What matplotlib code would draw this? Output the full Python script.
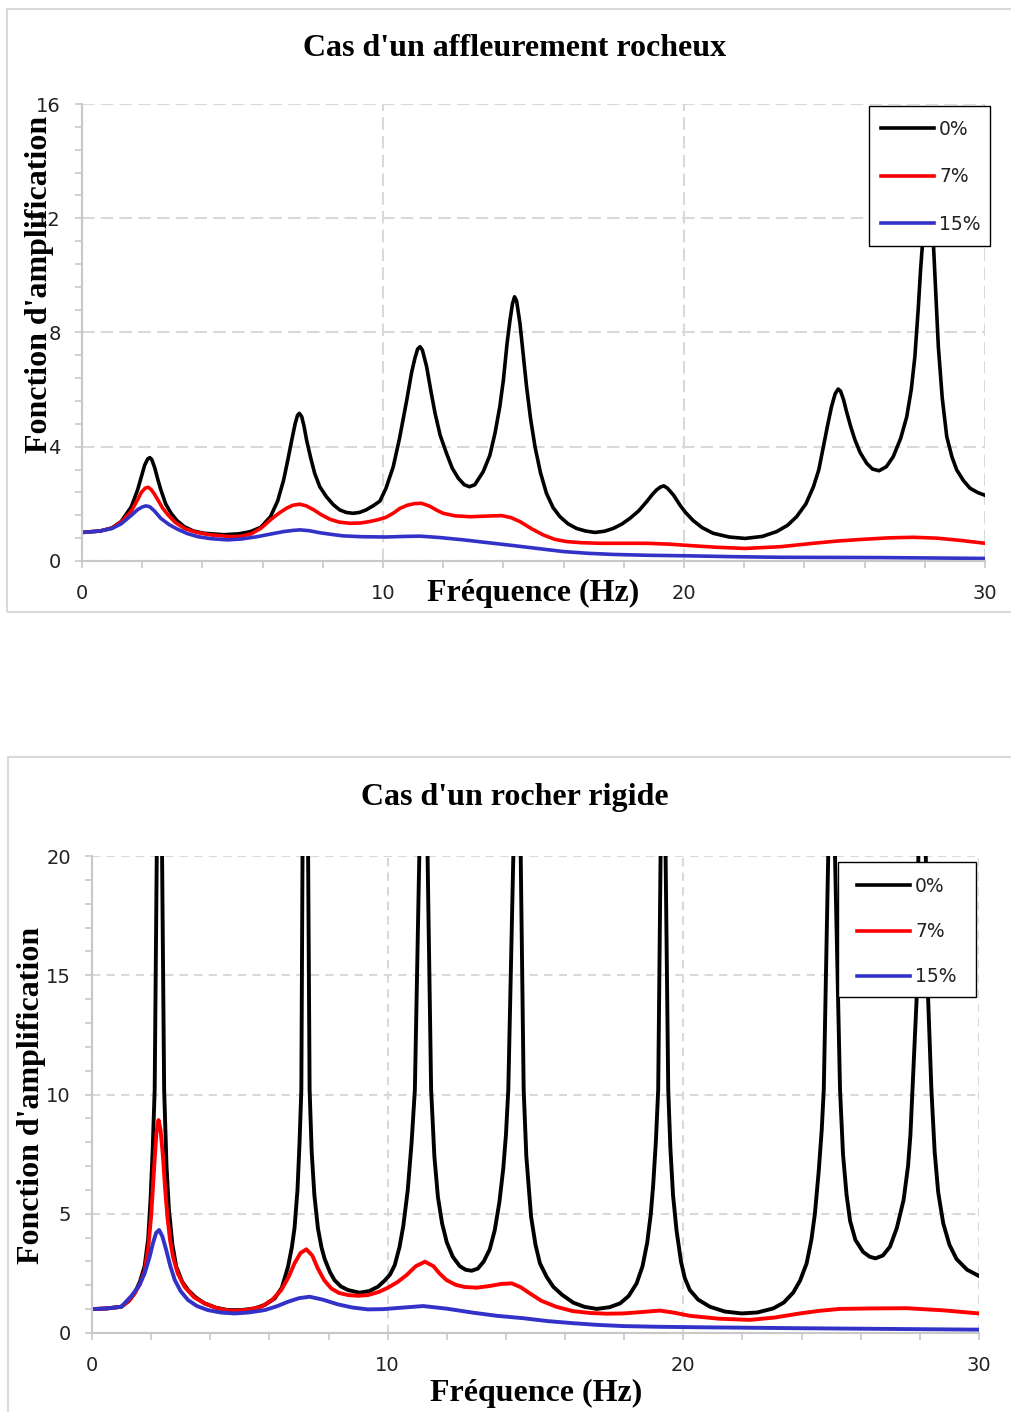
import matplotlib
matplotlib.use("Agg")
import matplotlib.pyplot as plt
from matplotlib.patches import Rectangle
from matplotlib.ticker import MultipleLocator

W, H = 1011, 1412

SERIES = ["0%", "7%", "15%"]
COLORS = ["#000000", "#ff0000", "#3232c8"]

# --- Cas d'un affleurement rocheux ---
top_f0 = [0, 0.6, 1.0, 1.3, 1.64, 1.85, 1.97, 2.08, 2.18, 2.25, 2.32, 2.42, 2.52, 2.62, 2.78,
          2.96, 3.15, 3.4, 3.7, 4.06, 4.72, 5.2, 5.6, 5.94, 6.26, 6.5, 6.7, 6.85, 6.97, 7.08,
          7.16, 7.22, 7.3, 7.38, 7.46, 7.6, 7.73, 7.9, 8.12, 8.35, 8.56, 8.78, 9.0, 9.22,
          9.44, 9.7, 9.9, 10.1, 10.34, 10.55, 10.79, 10.95, 11.06, 11.15, 11.23, 11.31,
          11.45, 11.6, 11.73, 11.9, 12.11, 12.3, 12.5, 12.7, 12.87, 13.05, 13.33, 13.55,
          13.72, 13.88, 14.0, 14.12, 14.22, 14.3, 14.37, 14.44, 14.55, 14.66, 14.77, 14.9,
          15.05, 15.23, 15.43, 15.65, 15.88, 16.15, 16.43, 16.73, 17.04, 17.35, 17.65,
          17.93, 18.2, 18.5, 18.76, 18.95, 19.09, 19.22, 19.33, 19.45, 19.65, 19.87, 20.05,
          20.3, 20.6, 20.97, 21.5, 22.03, 22.6, 23.08, 23.44, 23.74, 24.05, 24.3, 24.48,
          24.63, 24.78, 24.9, 25.02, 25.12, 25.2, 25.3, 25.4, 25.54, 25.68, 25.85, 26.07,
          26.26, 26.48, 26.72, 26.95, 27.2, 27.4, 27.55, 27.67, 27.78, 27.86, 27.92, 28.0,
          28.1, 28.2, 28.29, 28.37, 28.45, 28.58, 28.73, 28.9, 29.06, 29.28, 29.5, 29.75,
          30.0]
top_a0 = [1.0, 1.05, 1.16, 1.38, 1.9, 2.5, 2.95, 3.35, 3.57, 3.62, 3.55, 3.25, 2.85, 2.49, 2.0,
          1.67, 1.42, 1.2, 1.05, 0.97, 0.92, 0.95, 1.03, 1.18, 1.55, 2.1, 2.84, 3.6, 4.24, 4.8,
          5.1, 5.17, 5.05, 4.7, 4.24, 3.6, 3.07, 2.6, 2.25, 1.97, 1.79, 1.7, 1.67, 1.7,
          1.79, 1.95, 2.1, 2.55, 3.3, 4.3, 5.64, 6.6, 7.1, 7.42, 7.5, 7.38,
          6.8, 5.9, 5.17, 4.4, 3.77, 3.25, 2.9, 2.67, 2.6, 2.67, 3.13, 3.7,
          4.47, 5.4, 6.34, 7.6, 8.44, 9.0, 9.25, 9.1, 8.32, 7.2, 6.1, 5.0,
          4.0, 3.1, 2.37, 1.87, 1.55, 1.3, 1.14, 1.05, 1.0, 1.04, 1.14,
          1.29, 1.49, 1.76, 2.08, 2.33, 2.49, 2.59, 2.63, 2.55, 2.31, 1.95, 1.7,
          1.42, 1.17, 0.97, 0.84, 0.79, 0.86, 1.03, 1.25, 1.55, 2.0, 2.6, 3.2,
          4.0, 4.8, 5.4, 5.85, 6.02, 5.95, 5.65, 5.23, 4.7, 4.24, 3.8, 3.42,
          3.22, 3.16, 3.3, 3.65, 4.3, 5.05, 6.0, 7.15, 8.8, 10.2, 11.06, 12.8,
          14.0, 13.0, 11.0, 9.2, 7.5, 5.7, 4.35, 3.65, 3.19, 2.82, 2.55, 2.4,
          2.3]

top_f7 = [0, 0.6, 1.0, 1.3, 1.64, 1.85, 1.97, 2.1, 2.2, 2.3, 2.4, 2.52, 2.68, 2.86, 3.1, 3.4,
          3.8, 4.3, 4.96, 5.3, 5.62, 5.95, 6.26, 6.55, 6.8, 7.0, 7.23, 7.45, 7.7, 7.95, 8.24,
          8.55, 8.9, 9.25, 9.55, 9.85, 10.1, 10.35, 10.56, 10.8, 11.05, 11.28, 11.55, 11.8,
          12.0, 12.4, 12.89, 13.4, 13.94, 14.25, 14.55, 14.95, 15.33, 15.7, 16.1, 16.6,
          17.21, 18.0, 18.76, 19.5, 20.2, 21.1, 22.03, 23.2, 24.3, 25.1, 25.96, 26.8, 27.62,
          28.4, 29.2, 30.0]
top_a7 = [1.0, 1.05, 1.15, 1.36, 1.75, 2.15, 2.4, 2.55, 2.58, 2.5, 2.35, 2.14, 1.85, 1.61, 1.35,
          1.14, 1.0, 0.91, 0.85, 0.87, 0.95, 1.15, 1.44, 1.68, 1.85, 1.95, 1.99, 1.93, 1.79,
          1.62, 1.46, 1.36, 1.32, 1.33, 1.38, 1.45, 1.53, 1.68, 1.84, 1.95, 2.01, 2.02, 1.92,
          1.77, 1.67, 1.58, 1.55, 1.57, 1.59, 1.52, 1.38, 1.12, 0.91, 0.76, 0.68, 0.64,
          0.62, 0.62, 0.62, 0.59, 0.54, 0.48, 0.44, 0.5, 0.62, 0.7, 0.76, 0.81, 0.83,
          0.8, 0.72, 0.62]

top_f15 = [0, 0.6, 1.0, 1.3, 1.64, 1.85, 2.0, 2.12, 2.25, 2.4, 2.62, 2.9, 3.18, 3.5, 3.85, 4.3,
           4.83, 5.3, 5.81, 6.25, 6.7, 7.0, 7.24, 7.55, 7.9, 8.3, 8.67, 9.3, 10.1, 10.7, 11.23,
           11.9, 12.67, 13.5, 14.33, 15.2, 16.0, 16.8, 17.65, 18.8, 20.2, 21.7, 23.2, 26.5,
           30.0]
top_a15 = [1.0, 1.05, 1.14, 1.3, 1.6, 1.8, 1.89, 1.93, 1.9, 1.76, 1.49, 1.27, 1.11, 0.96, 0.85,
           0.78, 0.74, 0.77, 0.85, 0.94, 1.03, 1.07, 1.09, 1.06, 0.99, 0.93, 0.88, 0.85, 0.84,
           0.86, 0.87, 0.82, 0.74, 0.64, 0.54, 0.43, 0.33, 0.27, 0.23, 0.2, 0.18, 0.15, 0.13,
           0.12, 0.09]

# --- Cas d'un rocher rigide ---
bot_f0 = [0, 0.5, 0.99, 1.25, 1.44, 1.62, 1.78, 1.9, 1.98, 2.05, 2.12, 2.19, 2.28, 2.37, 2.44,
          2.52, 2.6, 2.72, 2.85, 3.05, 3.25, 3.5, 3.81, 4.2, 4.6, 5.05, 5.5, 5.85, 6.18, 6.42,
          6.63, 6.76, 6.85, 6.95, 7.02, 7.08, 7.12, 7.21, 7.31, 7.36, 7.43, 7.52, 7.64, 7.76,
          7.87, 8.05, 8.2, 8.42, 8.66, 9.05, 9.38, 9.67, 9.9, 10.08, 10.24, 10.4, 10.53,
          10.68, 10.81, 10.92, 11.07, 11.21, 11.35, 11.47, 11.58, 11.7, 11.84, 12.0, 12.2,
          12.44, 12.64, 12.84, 13.05, 13.25, 13.45, 13.62, 13.78, 13.91, 14.0, 14.08, 14.25,
          14.37, 14.5, 14.6, 14.69, 14.85, 15.0, 15.15, 15.38, 15.6, 15.9, 16.28, 16.65,
          17.07, 17.5, 17.86, 18.15, 18.42, 18.62, 18.78, 18.9, 18.98, 19.07, 19.15, 19.23,
          19.31, 19.4, 19.49, 19.56, 19.65, 19.77, 19.92, 20.05, 20.22, 20.5, 20.9, 21.4,
          21.97, 22.5, 23.04, 23.4, 23.72, 23.95, 24.17, 24.33, 24.45, 24.58, 24.68, 24.75,
          24.9, 25.02, 25.13, 25.3, 25.4, 25.52, 25.64, 25.82, 26.08, 26.3, 26.5, 26.75,
          26.99, 27.22, 27.45, 27.6, 27.68, 27.75, 27.89, 27.95, 28.07, 28.2, 28.28, 28.39,
          28.5, 28.62, 28.79, 29.0, 29.24, 29.6, 30.0]
bot_a0 = [1.0, 1.03, 1.1, 1.35, 1.66, 2.15, 2.8, 3.95, 5.6, 7.6, 10.2, 20, 60, 20, 10.2,
          7.0, 5.2, 3.7, 2.78, 2.15, 1.8, 1.5, 1.24, 1.06, 0.96, 0.96, 1.03, 1.18, 1.45, 1.9,
          2.78, 3.6, 4.4, 6.0, 8.0, 10.2, 20, 60, 20, 10.2, 7.6, 5.8, 4.4, 3.6,
          3.1, 2.55, 2.22, 1.95, 1.8, 1.69, 1.76, 1.94, 2.2, 2.45, 2.85, 3.6, 4.5,
          6.0, 8.0, 10.2, 20, 60, 20, 10.2, 7.4, 5.7, 4.6, 3.8, 3.2,
          2.8, 2.65, 2.61, 2.7, 3.0, 3.5, 4.3, 5.5, 6.9, 8.3, 10.2, 20,
          60, 20, 10.2, 7.4, 4.88, 3.7, 2.92, 2.35, 1.94, 1.6, 1.27, 1.1,
          1.01, 1.08, 1.24, 1.55, 2.08, 2.8, 3.8, 5.0, 6.2, 8.0, 10.2, 20,
          60, 20, 10.2, 7.8, 5.8, 4.3, 3.0, 2.3, 1.8, 1.4, 1.1, 0.9,
          0.82, 0.86, 1.03, 1.28, 1.7, 2.2, 2.92, 3.9, 5.0, 6.8, 8.5, 10.2,
          20, 60, 20, 10.2, 7.5, 5.8, 4.7, 3.9, 3.4, 3.2, 3.13, 3.25,
          3.62, 4.4, 5.58, 7.0, 8.3, 10.2, 14.0, 20, 60, 20, 14.0, 10.2,
          7.6, 5.9, 4.6, 3.7, 3.1, 2.65, 2.39]

bot_f7 = [0, 0.5, 0.99, 1.25, 1.44, 1.62, 1.78, 1.9, 2.0, 2.07, 2.12, 2.18, 2.25, 2.32, 2.4,
          2.47, 2.55, 2.64, 2.74, 2.9, 3.13, 3.45, 3.81, 4.25, 4.71, 5.2, 5.73, 6.1, 6.4, 6.65,
          6.85, 7.05, 7.25, 7.45, 7.64, 7.85, 8.09, 8.35, 8.66, 9.0, 9.33, 9.7, 10.01, 10.35,
          10.64, 10.95, 11.26, 11.55, 11.75, 11.99, 12.3, 12.6, 13.01, 13.45, 13.85, 14.2,
          14.5, 14.81, 15.2, 15.7, 16.25, 16.84, 17.4, 17.97, 18.6, 19.21, 19.7, 20.22, 21.2,
          22.25, 23.1, 23.94, 24.6, 25.29, 26.4, 27.55, 28.8, 30.0]
bot_a7 = [1.0, 1.03, 1.1, 1.35, 1.66, 2.05, 2.6, 3.55, 4.9, 6.3, 7.3, 8.4, 8.93, 8.5, 7.4,
          6.1, 4.88, 3.9, 3.2, 2.5, 1.94, 1.5, 1.24, 1.03, 0.93, 0.96, 1.1, 1.4, 1.8, 2.35,
          2.92, 3.35, 3.51, 3.25, 2.7, 2.22, 1.87, 1.68, 1.59, 1.56, 1.59, 1.72, 1.9, 2.15,
          2.43, 2.8, 2.99, 2.8, 2.5, 2.22, 2.02, 1.93, 1.9, 1.97, 2.06, 2.08,
          1.92, 1.66, 1.35, 1.1, 0.92, 0.84, 0.81, 0.82, 0.88, 0.94, 0.85, 0.72, 0.6,
          0.55, 0.65, 0.82, 0.93, 1.01, 1.03, 1.04, 0.95, 0.82]

bot_f15 = [0, 0.5, 0.99, 1.33, 1.6, 1.78, 1.95, 2.06, 2.17, 2.27, 2.38, 2.51, 2.65, 2.8, 3.0,
           3.25, 3.55, 3.92, 4.35, 4.82, 5.3, 5.84, 6.25, 6.63, 7.0, 7.36, 7.8, 8.32, 8.8,
           9.33, 9.85, 10.35, 11.2, 12.0, 12.9, 13.7, 14.59, 15.4, 16.28, 17.1, 17.97, 19.2,
           20.56, 24.0, 27.0, 30.0]
bot_a15 = [1.0, 1.03, 1.1, 1.55, 2.0, 2.5, 3.2, 3.76, 4.2, 4.32, 4.05, 3.48, 2.8, 2.22, 1.75,
           1.38, 1.13, 0.96, 0.86, 0.82, 0.86, 0.96, 1.12, 1.31, 1.46, 1.52, 1.4, 1.2, 1.07,
           0.99, 1.0, 1.05, 1.13, 1.02, 0.85, 0.72, 0.62, 0.5, 0.41, 0.34, 0.29, 0.26,
           0.24, 0.2, 0.17, 0.14]

SERIF = ["Liberation Serif", "DejaVu Serif"]
SANS = ["DejaVu Sans"]


def fx(px):
    return px / W


def fy(py):
    return 1 - py / H


def style_axes(ax, ymax, ymajor, yminor, dash):
    ax.set_xlim(0, 30)
    ax.set_ylim(0, ymax)
    ax.xaxis.set_major_locator(MultipleLocator(10))
    ax.xaxis.set_minor_locator(MultipleLocator(2))
    ax.yaxis.set_major_locator(MultipleLocator(ymajor))
    ax.yaxis.set_minor_locator(MultipleLocator(yminor))
    for s in ("top", "right"):
        ax.spines[s].set_visible(False)
    for s in ("left", "bottom"):
        ax.spines[s].set_color("#c8c8c8")
        ax.spines[s].set_linewidth(1.5)
    ax.tick_params(which="both", direction="out", color="#c8c8c8", width=1.2, length=5)
    ax.tick_params(axis="y", which="both", pad=10.3)
    ax.tick_params(axis="x", which="both", pad=11.5)
    ax.tick_params(labelsize=14, labelcolor="#222222")
    for lab in ax.get_xticklabels() + ax.get_yticklabels():
        lab.set_family(SANS)
    ax.set_axisbelow(True)
    ax.grid(True, which="major", color="#d9d9d9", linestyle=(0, dash), linewidth=1.5)


def add_panel(fig, rect, frame, title, title_xy, ylab_xy, xlab_xy, curves, lw, ymax, ymajor,
              yminor, dash, leg_box, leg_start, leg_spacing):
    # light grey frame round the whole chart
    fig.patches.append(Rectangle((fx(frame[0]), fy(frame[1] + frame[3])), frame[2] / W,
                                 frame[3] / H, transform=fig.transFigure, fill=False,
                                 edgecolor="#d9d9d9", linewidth=1.5))
    ax = fig.add_axes(rect)
    for (f, a), name, col in zip(curves, SERIES, COLORS):
        ax.plot(f, a, color=col, lw=lw, label=name, solid_joinstyle="round")
    style_axes(ax, ymax, ymajor, yminor, dash)

    # legend box drawn at its own size, entries placed inside it
    x0, y0, x1, y1 = leg_box
    ax.add_patch(Rectangle((fx(x0), fy(y1)), (x1 - x0) / W, (y1 - y0) / H,
                           transform=fig.transFigure, facecolor="white", edgecolor="black",
                           linewidth=1.0, clip_on=False, zorder=4))
    leg = ax.legend(loc="upper left", bbox_to_anchor=(fx(leg_start[0]), fy(leg_start[1])),
                    bbox_transform=fig.transFigure, frameon=False, fontsize=13.5,
                    handlelength=2.85, handletextpad=0.25, labelspacing=leg_spacing,
                    borderpad=0, borderaxespad=0)
    leg.set_zorder(5)
    for line in leg.get_lines():
        line.set_linewidth(2.6)
    for t in leg.get_texts():
        t.set_family(SANS)
        t.set_color("#222222")

    fig.text(fx(title_xy[0]), fy(title_xy[1]), title, ha="center", va="center",
             family=SERIF, weight="bold", size=23)
    fig.text(fx(ylab_xy[0]), fy(ylab_xy[1]), "Fonction d'amplification", ha="center",
             va="center", rotation=90, family=SERIF, weight="bold", size=23)
    fig.text(fx(xlab_xy[0]), fy(xlab_xy[1]), "Fréquence (Hz)", ha="center", va="center",
             family=SERIF, weight="bold", size=23)
    return ax


fig = plt.figure(figsize=(W / 100, H / 100), dpi=100)

add_panel(fig, [fx(82), fy(561), (985 - 82) / W, (561 - 104) / H], (7, 9, 1030, 603),
          "Cas d'un affleurement rocheux", (515, 49), (40, 284), (533, 593),
          [(top_f0, top_a0), (top_f7, top_a7), (top_f15, top_a15)], 2.6,
          16, 4, 0.8, (6, 3), (869, 106, 990, 246), (881, 120), 1.52)

add_panel(fig, [fx(92), fy(1333), (979 - 92) / W, (1333 - 856) / H], (8, 757, 1030, 700),
          "Cas d'un rocher rigide", (515, 797), (32, 1095), (536, 1393),
          [(bot_f0, bot_a0), (bot_f7, bot_a7), (bot_f15, bot_a15)], 2.8,
          20, 5, 1, (4, 3), (838, 862, 976, 997), (857, 877), 1.39)

fig.savefig("out.png", dpi=100)
